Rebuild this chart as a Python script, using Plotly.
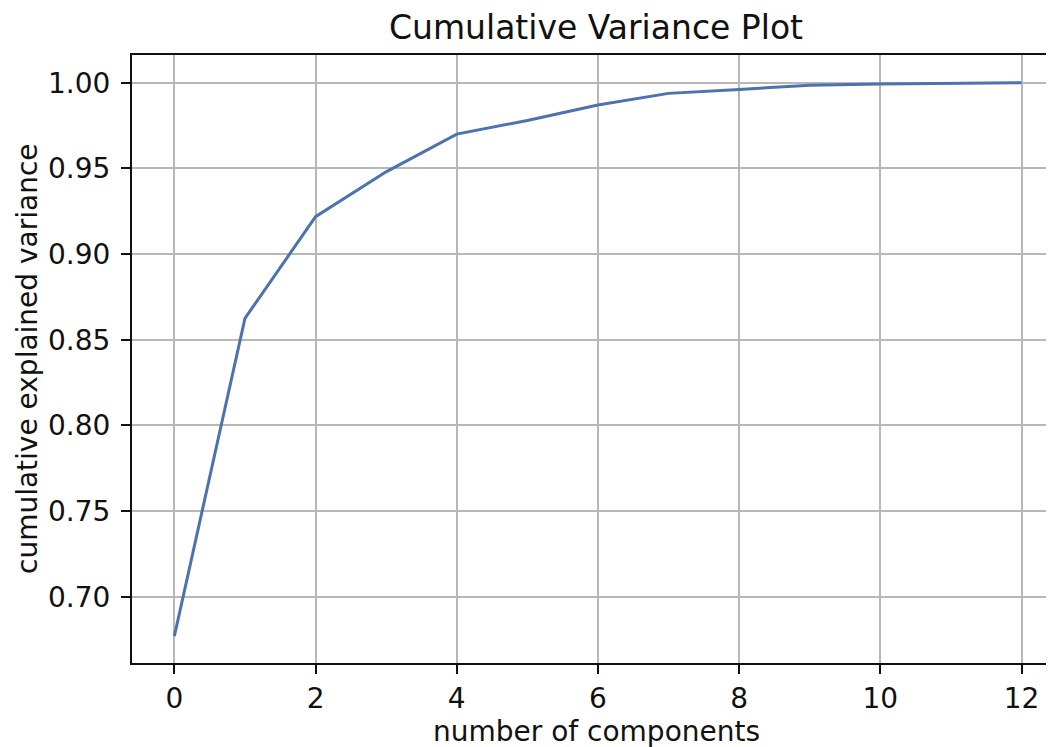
import plotly.graph_objects as go

# cumulative explained variance
components = [0, 1, 2, 3, 4, 5, 6, 7, 8, 9, 10, 11, 12]
cum_variance = [0.677, 0.8625, 0.9218, 0.948, 0.970, 0.978, 0.987,
                0.9938, 0.9961, 0.9985, 0.9992, 0.9996, 1.0]
x_ticks = [0, 2, 4, 6, 8, 10, 12]
y_ticks = [0.70, 0.75, 0.80, 0.85, 0.90, 0.95, 1.00]

# page body has an 8px margin, so the figure is a bit smaller than the window
W, H = 1046, 739
font = "DejaVu Sans"
ink = '#111111'

fig = go.Figure()
fig.add_trace(go.Scatter(
    x=components,
    y=cum_variance,
    mode='lines',
    line=dict(color='#4c72b0', width=3),
    showlegend=False
))

# axis labels as annotations so they sit exactly where the reference has them
fig.add_annotation(
    text="number of components", xref='paper', yref='paper',
    x=0.5033, y=0, xanchor='center', yanchor='middle', yshift=-68,
    showarrow=False, font=dict(family=font, size=28, color=ink)
)
fig.add_annotation(
    text="cumulative explained variance", xref='paper', yref='paper',
    x=0, y=0.5, xanchor='center', yanchor='middle', xshift=-105,
    textangle=-90, showarrow=False, font=dict(family=font, size=28, color=ink)
)

fig.update_layout(
    width=W,
    height=H,
    margin=dict(l=124, r=0, t=47, b=84),
    paper_bgcolor='white',
    plot_bgcolor='white',
    font=dict(family=font, size=27, color=ink),
    title=dict(
        text="Cumulative Variance Plot",
        font=dict(family=font, size=33, color=ink),
        x=588 / W, xref='container', xanchor='center',
        y=1 - 19 / H, yref='container', yanchor='middle'
    ),
    xaxis=dict(
        range=[-0.6, 12.46],
        tickvals=x_ticks,
        tickfont=dict(size=28),
        ticks='outside', ticklen=9, tickwidth=2, tickcolor=ink,
        showline=True, linecolor=ink, linewidth=2, mirror=True,
        showgrid=True, gridcolor='#b8b8b8', gridwidth=2,
        zeroline=False, automargin=False
    ),
    yaxis=dict(
        range=[0.6613, 1.0162],
        tickvals=y_ticks,
        tickformat='.2f',
        tickfont=dict(size=28),
        ticks='outside', ticklen=9, tickwidth=2, tickcolor=ink,
        ticklabelstandoff=5,
        showline=True, linecolor=ink, linewidth=2, mirror=False,
        showgrid=True, gridcolor='#b8b8b8', gridwidth=2,
        zeroline=False, automargin=False
    )
)

fig.write_html("out.html")
